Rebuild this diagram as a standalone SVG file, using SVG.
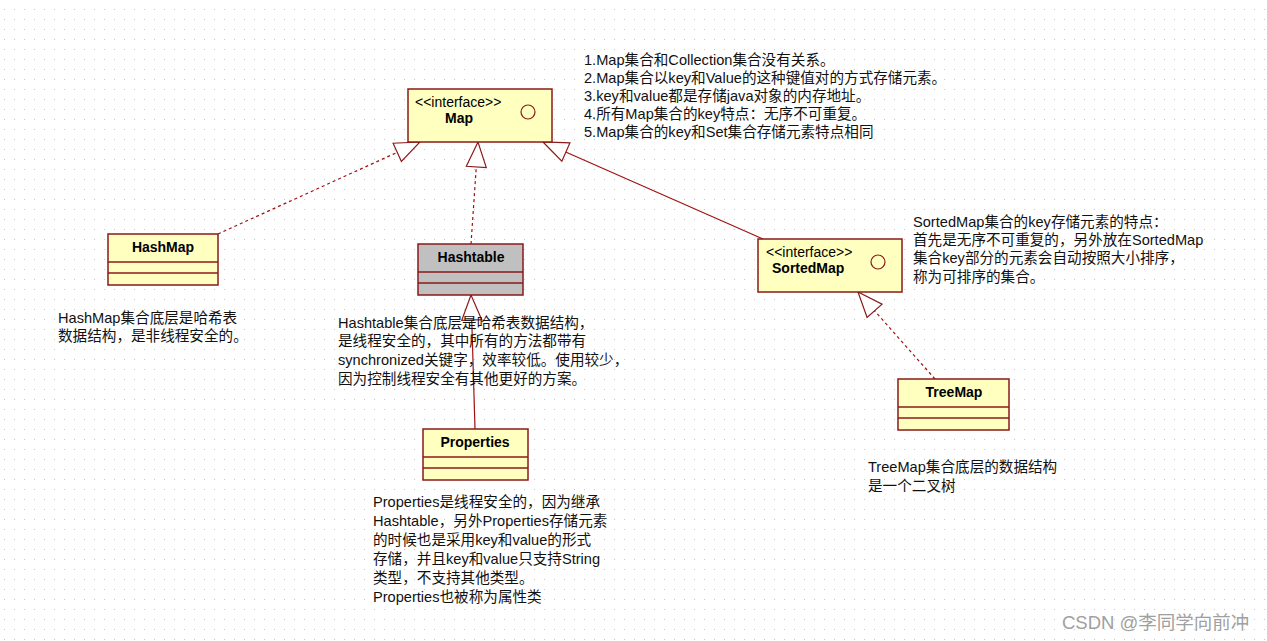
<svg xmlns="http://www.w3.org/2000/svg" width="1267" height="641" viewBox="0 0 1267 641">
<defs>
<pattern id="grid" x="0" y="0" width="10" height="10" patternUnits="userSpaceOnUse">
<rect x="4" y="9" width="1" height="1" fill="#c8c8c8"/>
</pattern>
<marker id="tri" viewBox="0 0 28 24" markerWidth="28" markerHeight="24" refX="26" refY="12" orient="auto" markerUnits="userSpaceOnUse">
<path d="M26,12 L1,2 L1,22 Z" fill="#ffffff" stroke="#8b1a1a" stroke-width="1.2" stroke-dasharray="none"/>
</marker>
</defs>
<style>
.box{fill:#ffffc0;stroke:#8b1a1a;stroke-width:1.5}
.gray{fill:#c0c0c0}
.div{stroke:#8b1a1a;stroke-width:1.5}
.name{font-family:"Liberation Sans","DejaVu Sans",sans-serif;font-weight:bold;font-size:14px;fill:#000}
.stereo{font-family:"Liberation Sans","DejaVu Sans",sans-serif;font-size:14px;fill:#000}
.note{font-family:"Liberation Sans","Noto Sans CJK SC",sans-serif;font-size:14.6px;fill:#111}
.dash{stroke:#a01010;stroke-width:1.2;fill:none;stroke-dasharray:3,3;marker-end:url(#tri)}
.solid{stroke:#a01010;stroke-width:1.2;fill:none;marker-end:url(#tri)}
.wm{font-family:"Liberation Sans","Noto Sans CJK SC",sans-serif;font-size:18.5px;fill:#a0a0a0}
</style>
<rect width="1267" height="641" fill="#ffffff"/>
<rect width="1267" height="641" fill="url(#grid)"/>

<g id="connectors">
<line class="dash" x1="218" y1="234" x2="420" y2="142"/>
<line class="dash" x1="471" y1="244" x2="478" y2="142"/>
<line class="solid" x1="763" y1="239" x2="543" y2="142"/>
<line class="solid" x1="475" y1="429" x2="471" y2="295"/>
<line class="dash" x1="935" y1="379" x2="858" y2="292"/>
</g>

<g id="Map">
<rect class="box" x="408" y="89" width="144" height="53"/>
<text class="stereo" x="415" y="107">&lt;&lt;interface&gt;&gt;</text>
<text class="name" x="445" y="123">Map</text>
<circle cx="528" cy="112" r="7" fill="none" stroke="#8b1a1a" stroke-width="1.2"/>
</g>

<g id="HashMap">
<rect class="box" x="108" y="234" width="110" height="51"/>
<line class="div" x1="108" y1="262" x2="218" y2="262"/>
<line class="div" x1="108" y1="273" x2="218" y2="273"/>
<text class="name" x="163" y="252" text-anchor="middle">HashMap</text>
</g>

<g id="Hashtable">
<rect class="box gray" x="418" y="244" width="105" height="51"/>
<line class="div" x1="418" y1="272" x2="523" y2="272"/>
<line class="div" x1="418" y1="283" x2="523" y2="283"/>
<text class="name" x="471" y="262" text-anchor="middle">Hashtable</text>
</g>

<g id="SortedMap">
<rect class="box" x="758" y="239" width="144" height="53"/>
<text class="stereo" x="766" y="257">&lt;&lt;interface&gt;&gt;</text>
<text class="name" x="772" y="273">SortedMap</text>
<circle cx="878" cy="262" r="7" fill="none" stroke="#8b1a1a" stroke-width="1.2"/>
</g>

<g id="TreeMap">
<rect class="box" x="898" y="379" width="111" height="51"/>
<line class="div" x1="898" y1="407" x2="1009" y2="407"/>
<line class="div" x1="898" y1="418" x2="1009" y2="418"/>
<text class="name" x="954" y="397" text-anchor="middle">TreeMap</text>
</g>

<g id="Properties">
<rect class="box" x="423" y="429" width="105" height="51"/>
<line class="div" x1="423" y1="457" x2="528" y2="457"/>
<line class="div" x1="423" y1="468" x2="528" y2="468"/>
<text class="name" x="475" y="447" text-anchor="middle">Properties</text>
</g>

<g id="note-map">
<text class="note" x="584" y="65">1.Map集合和Collection集合没有关系。</text>
<text class="note" x="584" y="83">2.Map集合以key和Value的这种键值对的方式存储元素。</text>
<text class="note" x="584" y="101">3.key和value都是存储java对象的内存地址。</text>
<text class="note" x="584" y="119">4.所有Map集合的key特点：无序不可重复。</text>
<text class="note" x="584" y="137">5.Map集合的key和Set集合存储元素特点相同</text>
</g>

<g id="note-hashmap">
<text class="note" x="58" y="323">HashMap集合底层是哈希表</text>
<text class="note" x="58" y="341">数据结构，是非线程安全的。</text>
</g>

<g id="note-hashtable">
<text class="note" x="338" y="328">Hashtable集合底层是哈希表数据结构，</text>
<text class="note" x="338" y="346">是线程安全的，其中所有的方法都带有</text>
<text class="note" x="338" y="365">synchronized关键字，效率较低。使用较少，</text>
<text class="note" x="338" y="384">因为控制线程安全有其他更好的方案。</text>
</g>

<g id="note-sortedmap">
<text class="note" x="913" y="227">SortedMap集合的key存储元素的特点：</text>
<text class="note" x="913" y="245">首先是无序不可重复的，另外放在SortedMap</text>
<text class="note" x="913" y="263">集合key部分的元素会自动按照大小排序，</text>
<text class="note" x="913" y="282">称为可排序的集合。</text>
</g>

<g id="note-treemap">
<text class="note" x="868" y="472">TreeMap集合底层的数据结构</text>
<text class="note" x="868" y="491">是一个二叉树</text>
</g>

<g id="note-properties">
<text class="note" x="373" y="507">Properties是线程安全的，因为继承</text>
<text class="note" x="373" y="526">Hashtable，另外Properties存储元素</text>
<text class="note" x="373" y="545">的时候也是采用key和value的形式</text>
<text class="note" x="373" y="564">存储，并且key和value只支持String</text>
<text class="note" x="373" y="583">类型，不支持其他类型。</text>
<text class="note" x="373" y="602">Properties也被称为属性类</text>
</g>

<text class="wm" x="1062" y="629">CSDN @李同学向前冲</text>
</svg>
